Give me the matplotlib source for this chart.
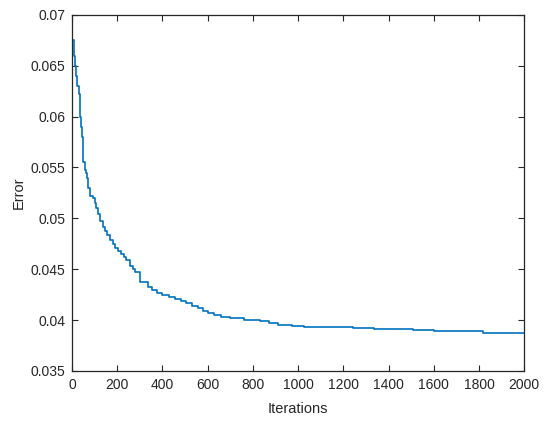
import matplotlib
matplotlib.use('Agg')
import matplotlib.pyplot as plt

plt.rcParams['font.family'] = ['Liberation Sans', 'DejaVu Sans']

# step points (iteration, error)
iters = [0, 8, 12, 18, 24, 31, 36, 40, 44, 48, 50, 58, 62, 68, 72, 80, 93, 100,
         106, 115, 125, 135, 145, 155, 168, 180, 192, 205, 218, 228, 240, 255,
         268, 280, 300, 335, 355, 375, 400, 430, 455, 480, 505, 530, 555, 580,
         600, 630, 660, 700, 760, 830, 870, 910, 975, 1025, 1245, 1335, 1510,
         1600, 1820, 2000]
errors = [0.0675, 0.0660, 0.0650, 0.0640, 0.0630, 0.0622, 0.0600, 0.0590, 0.0580,
          0.0570, 0.0555, 0.0548, 0.0545, 0.0540, 0.0530, 0.0522, 0.0520, 0.0515,
          0.0510, 0.0504, 0.0497, 0.0492, 0.0488, 0.0484, 0.0479, 0.0475, 0.0471,
          0.0468, 0.0465, 0.0462, 0.0459, 0.0453, 0.0450, 0.0447, 0.0437, 0.0433,
          0.0430, 0.0427, 0.0425, 0.0423, 0.0421, 0.0419, 0.0417, 0.0414, 0.0412,
          0.0409, 0.0407, 0.0405, 0.0403, 0.0402, 0.0400, 0.0399, 0.0397, 0.0395,
          0.0394, 0.0393, 0.0392, 0.0391, 0.0390, 0.0389, 0.0387, 0.0387]

xticks = list(range(0, 2001, 200))
yticks = [0.035, 0.04, 0.045, 0.05, 0.055, 0.06, 0.065, 0.07]
ytick_labels = ['0.035', '0.04', '0.045', '0.05', '0.055', '0.06', '0.065', '0.07']

fig = plt.figure(figsize=(5.5, 4.24), dpi=100)
ax = fig.add_axes([0.131, 0.125, 0.822, 0.840])

ax.plot(iters, errors, drawstyle='steps-post', color='#0072BD', lw=1.2)

ax.set_xlim(0, 2000)
ax.set_ylim(0.035, 0.07)
ax.set_xticks(xticks)
ax.set_yticks(yticks)
ax.set_yticklabels(ytick_labels)

ax.tick_params(direction='in', top=True, right=True, length=4, width=0.8,
               labelsize=10, colors='#262626', pad=5)
for s in ax.spines.values():
    s.set_color('#262626')
    s.set_linewidth(0.9)

ax.set_xlabel('Iterations', fontsize=10.5, color='#262626', labelpad=7)
ax.set_ylabel('Error', fontsize=10.5, color='#262626', labelpad=3)

fig.savefig('out.png', dpi=100, facecolor='white')
